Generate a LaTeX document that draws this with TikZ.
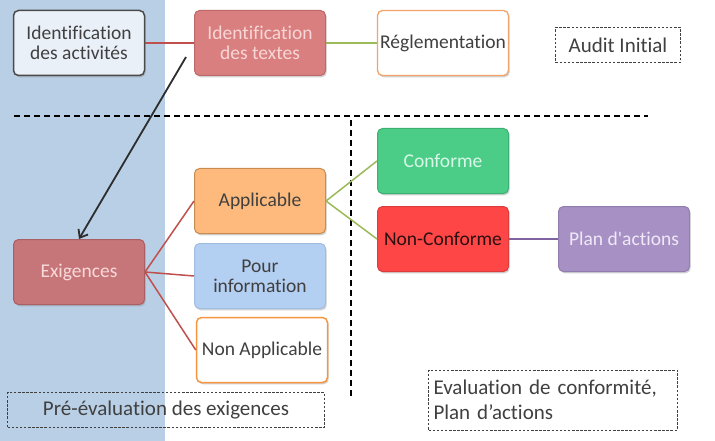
\documentclass[tikz,border=0pt]{standalone}
\usepackage{fontspec}
\setmainfont{Carlito}[Ligatures={TeX,NoCommon}]
\usetikzlibrary{shadows, arrows.meta}

\definecolor{bandblue}{HTML}{B9CFE5}
\definecolor{txtgray}{HTML}{404040}
\definecolor{arrowgray}{HTML}{2D2D2D}
\definecolor{linered}{HTML}{C0504D}
\definecolor{linegreen}{HTML}{9BBB59}
\definecolor{linepurple}{HTML}{8064A2}

\begin{document}
\begin{tikzpicture}[x=1pt, y=-1pt,
    box/.style={rectangle, rounded corners=5pt, minimum width=131pt, minimum height=65pt,
      align=center, inner sep=2pt, text=txtgray, line width=1pt,
      font=\fontsize{19.5}{20}\selectfont,
      drop shadow={shadow xshift=1.2pt, shadow yshift=-1.8pt, opacity=0.35}},
    note/.style={rectangle, draw=txtgray, dash pattern=on 2.5pt off 1.6pt, line width=0.9pt, inner sep=4pt,
      text=txtgray, font=\fontsize{21}{25}\selectfont},
    sep/.style={black, dash pattern=on 6pt off 4pt, line width=1.3pt}
  ]
  % Background and left band
  \useasboundingbox (0,0) rectangle (715,441);
  \fill[white] (0,0) rectangle (715,441);
  \fill[bandblue] (0,0) rectangle (165,441);

  % Separators
  \draw[sep] (14,116) -- (648,116);
  \draw[sep] (351,120) -- (351,398);

  % Top row
  \node[box, fill={rgb,255:red,234;green,240;blue,248}, draw={rgb,255:red,74;green,74;blue,74}, line width=1.5pt]
    (activites) at (79,43) {Identification\\des activités};
  \node[box, fill={rgb,255:red,217;green,127;blue,127}, draw={rgb,255:red,190;green,104;blue,104},
    text={rgb,255:red,248;green,214;blue,214}] (textes) at (260,43) {Identification\\des textes};
  \node[box, fill=white, draw={rgb,255:red,242;green,164;blue,106}, line width=1.3pt]
    (reglement) at (443,43) {Réglementation};

  % Second column
  \node[box, fill={rgb,255:red,253;green,186;blue,124}, draw={rgb,255:red,200;green,140;blue,80}]
    (applicable) at (260,201) {Applicable};
  \node[box, fill={rgb,255:red,179;green,207;blue,242}, draw={rgb,255:red,160;green,190;blue,225}]
    (pourinfo) at (260,276) {Pour\\information};
  \node[box, fill=white, draw={rgb,255:red,247;green,150;blue,63}, line width=1.5pt]
    (nonapp) at (262,350) {Non Applicable};
  \node[box, fill={rgb,255:red,198;green,117;blue,121}, draw={rgb,255:red,170;green,95;blue,100},
    text={rgb,255:red,248;green,218;blue,218}] (exigences) at (79,272) {Exigences};

  % Third and fourth column
  \node[box, fill={rgb,255:red,75;green,205;blue,136}, draw={rgb,255:red,60;green,176;blue,112},
    text={rgb,255:red,216;green,248;blue,232}] (conforme) at (443,161) {Conforme};
  \node[box, fill={rgb,255:red,255;green,70;blue,70}, draw={rgb,255:red,220;green,60;blue,60},
    text={rgb,255:red,42;green,16;blue,16}] (nonconf) at (443,239) {Non-Conforme};
  \node[box, fill={rgb,255:red,167;green,145;blue,196}, draw={rgb,255:red,145;green,125;blue,175},
    text={rgb,255:red,240;green,232;blue,248}] (plan) at (624,239) {Plan d\textquotesingle actions};

  % Phase labels
  \node[note, minimum width=125pt, minimum height=35pt] (audit) at (618,45) {Audit Initial};
  \node[note, minimum width=317pt, minimum height=35pt] (preeval) at (166,410) {Pré-évaluation des exigences};
  \node[note, minimum width=249pt, minimum height=60pt, align=left, text width=239pt]
    (evaluation) at (553,400) {Evaluation de conformité,\\Plan d’actions};

  % Connectors
  \draw[linered, line width=1.5pt] (activites.east) -- (textes.west);
  \draw[linegreen, line width=1.5pt] (textes.east) -- (reglement.west);
  \foreach \n in {applicable, pourinfo, nonapp} {
    \draw[linered, line width=1.5pt] (exigences.east) -- (\n.west);
  }
  \foreach \n in {conforme, nonconf} {
    \draw[linegreen, line width=1.5pt] (applicable.east) -- (\n.west);
  }
  \draw[linepurple, line width=1.5pt] (nonconf.east) -- (plan.west);

  % Arrow from textes to exigences
  \coordinate (start) at (186,57);
  \draw[-{Straight Barb[length=7pt, width=11pt]}, line width=1.8pt, arrowgray]
    (start) -- (exigences.north);
\end{tikzpicture}
\end{document}
